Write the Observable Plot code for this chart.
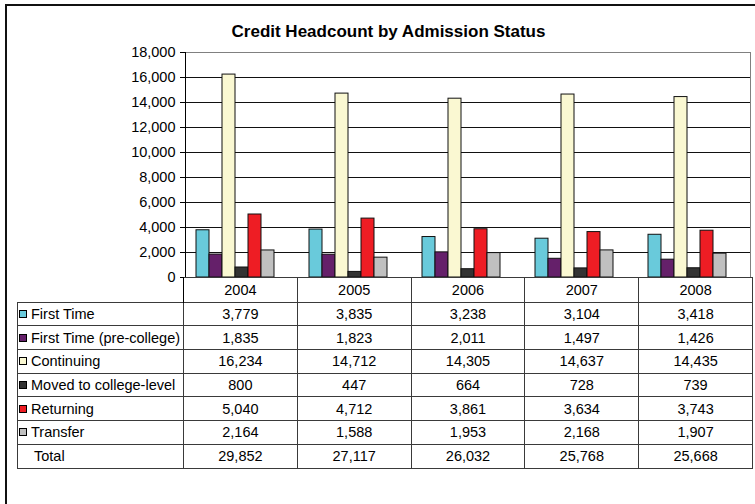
<!DOCTYPE html>
<html>
<head>
<meta charset="utf-8">
<script src="https://cdn.jsdelivr.net/npm/d3@7"></script>
<script src="https://cdn.jsdelivr.net/npm/@observablehq/plot@0.6"></script>
<style>
  html, body { margin: 0; padding: 0; background: #fff; }
  body { width: 755px; height: 504px; position: relative; overflow: hidden;
         font-family: "Liberation Sans", Arial, sans-serif; color: #000; }
  #frame { position: absolute; left: 5px; top: 4px; width: 800px; height: 600px;
           border-left: 2px solid #111; border-top: 2px solid #111; }
  #title { position: absolute; left: 0; top: 23px; width: 777px; text-align: center;
           font-weight: bold; font-size: 17px; line-height: 17px; }
  #chart { position: absolute; left: 0; top: 0; }
  #tbl { position: absolute; left: 17px; top: 277px; border-collapse: collapse;
         table-layout: fixed; width: 735px; font-size: 14.5px; }
  #tbl td { border: 1px solid #3a3a3a; padding: 0; text-align: center; height: 22.7px;
            line-height: 16px; white-space: nowrap; overflow: hidden; }
  #tbl tr.head td { height: 23.7px; }
  #tbl tr.head td.blank { border: none; border-right: 1px solid #000; }
  #tbl td.lab { text-align: left; padding-left: 1px; }
  #tbl td.tot { padding-left: 16px; }
  .sw { display: inline-block; width: 6px; height: 6px; border: 1px solid #000;
        margin-right: 4px; vertical-align: 1px; }
</style>
</head>
<body>
<div id="frame"></div>
<div id="chart"></div>
<div id="title">Credit Headcount by Admission Status</div>
<table id="tbl"></table>
<script>
const years = ["2004", "2005", "2006", "2007", "2008"];
const series = ["First Time", "First Time (pre-college)", "Continuing", "Moved to college-level", "Returning", "Transfer"];
const firstTime = [3779, 3835, 3238, 3104, 3418];
const preCollege = [1835, 1823, 2011, 1497, 1426];
const continuing = [16234, 14712, 14305, 14637, 14435];
const moved = [800, 447, 664, 728, 739];
const returning = [5040, 4712, 3861, 3634, 3743];
const transfer = [2164, 1588, 1953, 2168, 1907];
const totals = [29852, 27117, 26032, 25768, 25668];
const colors = ["#69CADB", "#65206A", "#FAF8D2", "#333333", "#EE1D24", "#C0C0C0"];
const yTicks = [0, 2000, 4000, 6000, 8000, 10000, 12000, 14000, 16000, 18000];

const seriesValues = [firstTime, preCollege, continuing, moved, returning, transfer];
const data = [];
years.forEach((year, i) => {
  series.forEach((s, j) => data.push({year, series: s, value: seriesValues[j][i]}));
});

const fmt = d3.format(",");

const chart = Plot.plot({
  width: 755,
  height: 290,
  marginTop: 52,
  marginBottom: 13,
  marginLeft: 183,
  marginRight: 3,
  style: {fontFamily: '"Liberation Sans", Arial, sans-serif', fontSize: "14.5px", background: "transparent", color: "#000"},
  fx: {domain: years, padding: 0, axis: null},
  x: {domain: series, paddingInner: 0, paddingOuter: 1.18, align: 0.31, axis: null},
  y: {domain: [0, 18000], label: null},
  color: {domain: series, range: colors},
  marks: [
    Plot.ruleY(yTicks.slice(1, -1), {stroke: "#111"}),
    Plot.ruleY([18000], {stroke: "#808080"}),
    Plot.barY(data, {fx: "year", x: "series", y: "value", fill: "series", stroke: "#111", strokeWidth: 1}),
    Plot.ruleY([0], {stroke: "#000"}),
    Plot.axisY({ticks: yTicks, tickFormat: fmt, tickSize: 5, tickPadding: 5, label: null, fontSize: 14.5}),
    Plot.frame({anchor: "left", facetAnchor: "left", stroke: "#000"}),
    Plot.frame({anchor: "right", facetAnchor: "right", stroke: "#808080"})
  ]
});
document.getElementById("chart").appendChild(chart);

// data table below the chart
const tbl = document.getElementById("tbl");
const colgroup = document.createElement("colgroup");
[166, ...years.map(() => 113.8)].forEach(w => {
  const c = document.createElement("col"); c.style.width = w + "px"; colgroup.appendChild(c);
});
tbl.appendChild(colgroup);
const head = document.createElement("tr"); head.className = "head";
head.innerHTML = `<td class="blank"></td>` + years.map(y => `<td>${y}</td>`).join("");
tbl.appendChild(head);
series.forEach((s, j) => {
  const tr = document.createElement("tr");
  tr.innerHTML = `<td class="lab"><span class="sw" style="background:${colors[j]}"></span>${s}</td>` +
    seriesValues[j].map(v => `<td>${fmt(v)}</td>`).join("");
  tbl.appendChild(tr);
});
const trT = document.createElement("tr");
trT.innerHTML = `<td class="lab tot">Total</td>` + totals.map(v => `<td>${fmt(v)}</td>`).join("");
tbl.appendChild(trT);
</script>
</body>
</html>
